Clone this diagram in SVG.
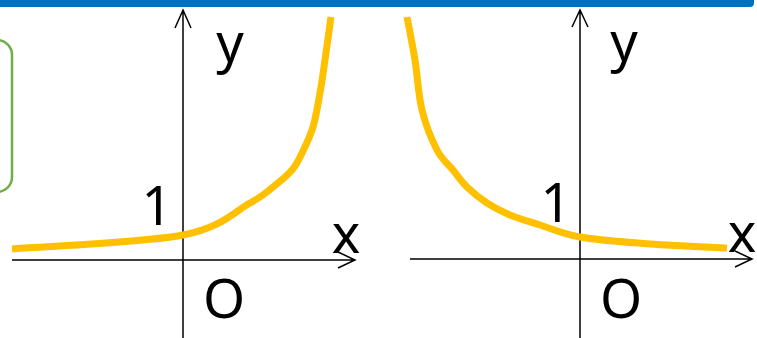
<svg xmlns="http://www.w3.org/2000/svg" width="757" height="338" viewBox="0 0 757 338">
<style>
.ax{fill:none;stroke:#000;stroke-width:1.5}
.cv{fill:none;stroke:#FFC000;stroke-width:7;stroke-linejoin:round}
.lb{font-family:"Noto Sans","Open Sans",sans-serif;font-size:54px;fill:#000;text-anchor:middle}
</style>
<rect x="-10" y="-10" width="764" height="17" rx="4" fill="#0070C0"/>
<rect id="box" x="-40" y="40" width="52" height="152" rx="15" fill="none" stroke="#70AD47" stroke-width="2.5"/>
<g id="connectors">
<path class="ax" d="M183 338V10M175 28L183 10L191 28"/>
<path class="ax" d="M12 260H355M338 252L355 260L338 268"/>
<path class="ax" d="M580 338V10M572 27L580 10L588 27"/>
<path class="ax" d="M410 259H752M735 251L752 259L735 267"/>
</g>
<g id="curve-left"><path class="cv" d="M12 249C40.5 246.7 143.3 242.7 183 235C222.7 227.3 235 211 250 203C265 195 266 192.5 273 187C280 181.5 287.2 175.7 292 170C296.8 164.3 298.5 160.2 302 153C305.5 145.8 310 137 313 127C316 117 318 104.2 320 93C322 81.8 323.2 72.7 325 60C326.8 47.3 330 24.2 331 17"/></g>
<g id="curve-right"><path class="cv" d="M407 17C408.3 24.2 412.5 44.5 415 60C417.5 75.5 418.3 95 422 110C425.7 125 431.8 140 437 150C442.2 160 448 163.8 453 170C458 176.2 461.3 181.5 467 187C472.7 192.5 479.8 198.3 487 203C494.2 207.7 501.2 211.3 510 215C518.8 218.7 528.3 221.3 540 225C551.7 228.7 561.7 233.8 580 237C598.3 240.2 625.5 242.2 650 244C674.5 245.8 714.2 247.3 727 248"/></g>
<g id="labels-left">
<text class="lb" x="230" y="62">y</text>
<text class="lb" x="157" y="225">1</text>
<text class="lb" x="346" y="253">x</text>
<text class="lb" x="224" y="318">O</text>
</g>
<g id="labels-right">
<text class="lb" x="624" y="61">y</text>
<text class="lb" x="556" y="222">1</text>
<text class="lb" x="742" y="252">x</text>
<text class="lb" x="621" y="318">O</text>
</g>
</svg>
